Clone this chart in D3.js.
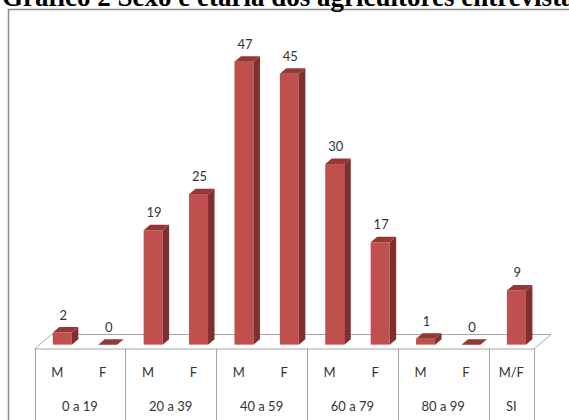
<!DOCTYPE html>
<html><head><meta charset="utf-8">
<script src="https://cdn.jsdelivr.net/npm/d3@7"></script>
<style>html,body{margin:0;padding:0;background:#fff;overflow:hidden}</style>
</head><body>
<script>
const title = "Gráfico 2 Sexo e etária dos agricultores entrevistados";
const categories = ["0 a 19","20 a 39","40 a 59","60 a 79","80 a 99","SI"];
const barCategory = ["0 a 19","0 a 19","20 a 39","20 a 39","40 a 59","40 a 59","60 a 79","60 a 79","80 a 99","80 a 99","SI"];
const barSex = ["M","F","M","F","M","F","M","F","M","F","M/F"];
const values = [2,0,19,25,47,45,30,17,1,0,9];

const W = 569, H = 420;
const svg = d3.select("body").append("svg").attr("width", W).attr("height", H);

// frame
svg.append("rect").attr("x", 8.5).attr("y", 9.5).attr("width", 600).attr("height", 450)
  .attr("fill", "#fff").attr("stroke", "#8c8c8c").attr("stroke-width", 1.5);

// title
svg.append("text").attr("x", 2).attr("y", 6).text(title)
  .attr("font-family", "'Liberation Serif','Times New Roman',serif").attr("font-weight", "bold")
  .attr("font-size", 27).attr("fill", "#000");

const ids = d3.range(values.length);
const x0 = 34.5, x1 = 534;
const frontY = 349;
const floorDX = 17, floorDY = -14.5;
const x = d3.scaleBand().domain(ids).range([x0, x1]).paddingInner(0).paddingOuter(0);
const barF = 0.3; // depth fraction of bar front face
const baseY = frontY + floorDY * barF;
const y = d3.scaleLinear().domain([0, 50]).range([baseY, baseY - 301]);
const bw = 19, bdx = 6.5, bdy = 5.5;

// floor
const floor = svg.append("g");
floor.append("path")
  .attr("d", `M${x0},${frontY} L${x1},${frontY} L${x1+floorDX},${frontY+floorDY} L${x0+floorDX},${frontY+floorDY} Z`)
  .attr("fill", "#fff").attr("stroke", "#a6a6a6").attr("stroke-width", 1);

// category divider lines
const catBounds = [];
categories.forEach(c => {
  const idx = barCategory.map((b,i)=>b===c?i:-1).filter(i=>i>=0);
  catBounds.push({c, start: x(idx[0]), end: x(idx[idx.length-1]) + x.bandwidth()});
});
const bounds = [x0].concat(catBounds.map(d => d.end));
svg.append("g").selectAll("line").data(bounds).join("line")
  .attr("x1", d => Math.round(d) + 0.5).attr("x2", d => Math.round(d) + 0.5)
  .attr("y1", frontY).attr("y2", H)
  .attr("stroke", "#a6a6a6").attr("stroke-width", 1);

// bars
const bars = svg.append("g").selectAll("g").data(ids).join("g");
const bx = i => x(i) + x.bandwidth()/2 + floorDX*barF - bw/2;
bars.each(function(i) {
  const g = d3.select(this);
  const v = values[i];
  const left = bx(i), right = left + bw, top = y(v), bot = y(0);
  if (v > 0) {
    g.append("rect").attr("x", left).attr("y", top).attr("width", bw).attr("height", bot - top)
      .attr("fill", "#c0504d");
    g.append("path").attr("d", `M${right},${top} L${right+bdx},${top-bdy} L${right+bdx},${bot-bdy} L${right},${bot} Z`)
      .attr("fill", "#7f2f2d");
  }
  g.append("path").attr("d", `M${left},${top} L${left+bdx},${top-bdy} L${right+bdx},${top-bdy} L${right},${top} Z`)
    .attr("fill", "#953735");
});

const labelFont = "Lato, 'Open Sans', sans-serif";
// value labels
svg.append("g").selectAll("text").data(ids).join("text")
  .attr("x", i => bx(i) + bw/2 + 1)
  .attr("y", i => y(values[i]) - bdy - 7.5)
  .attr("text-anchor", "middle")
  .attr("font-family", labelFont).attr("font-size", 13)
  .attr("fill", "#333")
  .text(i => values[i]);

// sex labels
svg.append("g").selectAll("text").data(ids).join("text")
  .attr("x", i => x(i) + x.bandwidth()/2)
  .attr("y", 377)
  .attr("text-anchor", "middle")
  .attr("font-family", labelFont).attr("font-size", 13)
  .attr("fill", "#333")
  .text(i => barSex[i]);

// category labels
svg.append("g").selectAll("text").data(catBounds).join("text")
  .attr("x", d => (d.start + d.end)/2)
  .attr("y", 411)
  .attr("text-anchor", "middle")
  .attr("font-family", labelFont).attr("font-size", 13)
  .attr("fill", "#333")
  .text(d => d.c);
</script>
</body></html>
